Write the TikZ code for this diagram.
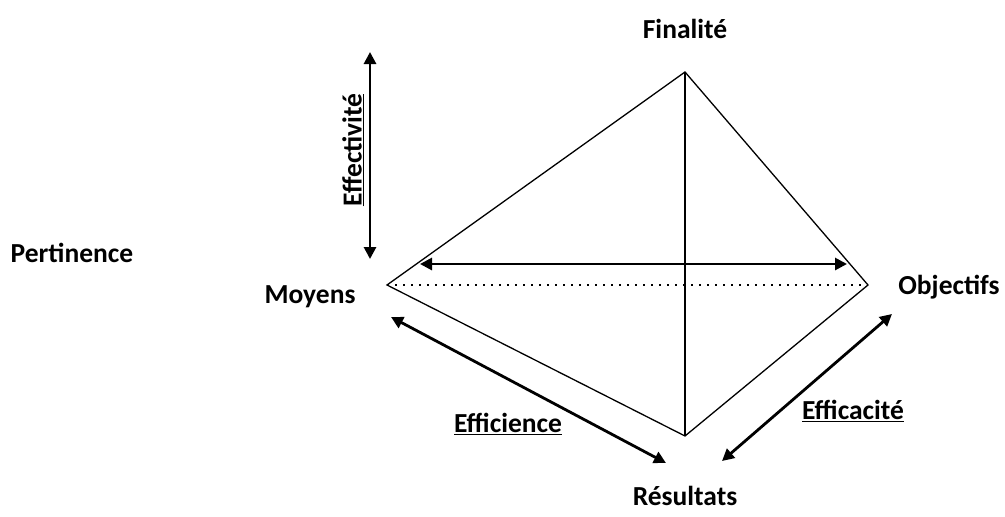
\documentclass[tikz,border=0pt]{standalone}
\usepackage{fontspec}
\setmainfont{Carlito}
\usetikzlibrary{arrows.meta}
\begin{document}
\begin{tikzpicture}[x=1pt,y=-1pt,
  lbl/.style={font=\fontsize{27.5}{30}\selectfont\bfseries, inner sep=0pt},
  thin/.style={line width=1.3pt, line join=miter},
  dbl/.style={line width=2.8pt, {Triangle[length=12pt,width=12pt]}-{Triangle[length=12pt,width=12pt]}}]
\useasboundingbox (0,0) rectangle (1005,517);
\coordinate (T) at (685,72);
\coordinate (L) at (387,285);
\coordinate (R) at (868,285);
\coordinate (B) at (685,436);
\draw[thin] (T) -- (L) -- (B) -- (R) -- cycle;
\draw[thin] (T) -- (B);
\draw[line width=2pt, dash pattern=on 2pt off 6pt] (L) -- (R);
% labels
\node[lbl] (fin) at (685,29) {Finalité};
\node[lbl] (moy) at (310,297) {Moyens};
\node[lbl] (obj) at (949,287) {Objectifs};
\node[lbl] (res) at (685,496) {Résultats};
\node[lbl] (per) at (72,253) {Pertinence};
% arrows
\coordinate (h1) at (420,264);
\coordinate (h2) at (847,264);
\draw[dbl] (h1) -- (h2);
\coordinate (v1) at (370,52);
\coordinate (v2) at (370,259);
\draw[dbl] (v1) -- (v2);
\node[lbl, rotate=90] (eff) at (353,150) {\underline{Effectivité}};
\coordinate (e1) at (391,317);
\coordinate (e2) at (666,463);
\draw[dbl] (e1) -- (e2);
\node[lbl] (effi) at (508,424) {\underline{Efficience}};
\coordinate (c1) at (722,461);
\coordinate (c2) at (892,314);
\draw[dbl] (c1) -- (c2);
\node[lbl] (effc) at (853,411) {\underline{Efficacité}};
\end{tikzpicture}
\end{document}
